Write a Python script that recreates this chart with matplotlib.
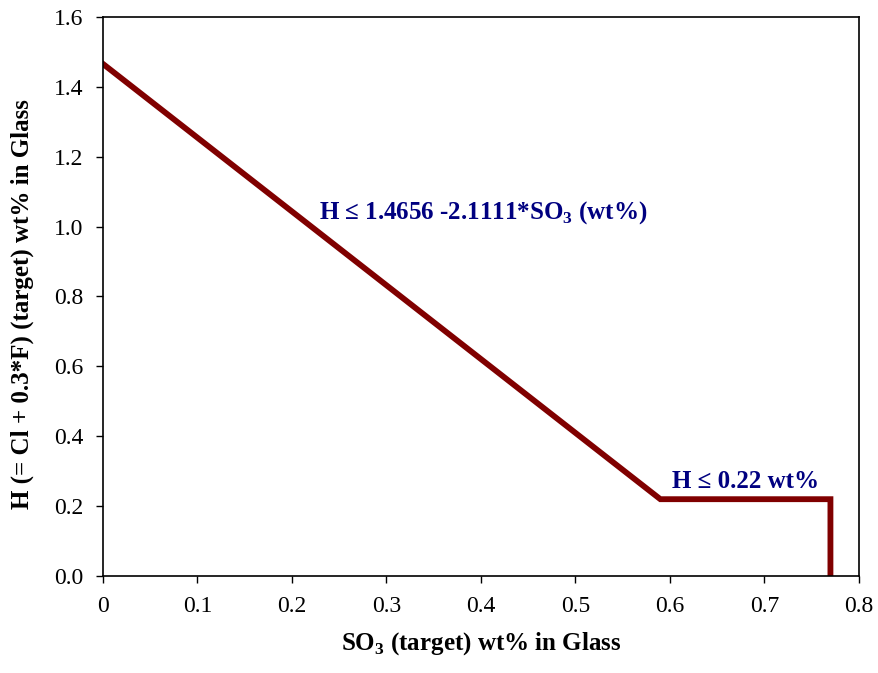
import numpy as np
import matplotlib.pyplot as plt

plt.rcParams['font.family'] = ['Liberation Serif', 'DejaVu Serif']
plt.rcParams['mathtext.fontset'] = 'custom'
plt.rcParams['mathtext.rm'] = 'Liberation Serif'
plt.rcParams['mathtext.bf'] = 'Liberation Serif:bold'

# 制約線 (SO3 vs H)
so3 = [0.0, 0.59, 0.77, 0.77]
h = [1.4656, 0.22, 0.22, 0.0]
xticks = [0, 0.1, 0.2, 0.3, 0.4, 0.5, 0.6, 0.7, 0.8]
xticklabels = ['0', '0.1', '0.2', '0.3', '0.4', '0.5', '0.6', '0.7', '0.8']
yticks = [0.0, 0.2, 0.4, 0.6, 0.8, 1.0, 1.2, 1.4, 1.6]

fig = plt.figure(figsize=(8.79, 6.73), dpi=100)
ax = fig.add_axes([0.117, 0.144, 0.86, 0.831])
ax.plot(so3, h, color='#800000', lw=4.2, solid_joinstyle='miter')
ax.set_xlim(0, 0.8)
ax.set_ylim(0, 1.6)
ax.set_xticks(xticks)
ax.set_xticklabels(xticklabels)
ax.set_yticks(yticks)
ax.set_yticklabels(['%.1f' % v for v in yticks])
ax.tick_params(direction='out', length=5, width=1, labelsize=17, pad=9)
for s in ax.spines.values():
    s.set_linewidth(1.2)

ax.set_xlabel(r'SO$_\mathbf{3}$ (target) wt% in Glass', fontsize=18, fontweight='bold', labelpad=10)
ax.set_ylabel('H (= Cl + 0.3*F) (target) wt% in Glass', fontsize=18, fontweight='bold')
ax.yaxis.set_label_coords(-0.091, 0.486)

ax.text(0.403, 1.04, r'H ≤ 1.4656 -2.1111*SO$_\mathbf{3}$ (wt%)', color='#000080',
        fontsize=18, fontweight='bold', ha='center', va='center')
ax.text(0.68, 0.27, 'H ≤ 0.22 wt%', color='#000080',
        fontsize=18, fontweight='bold', ha='center', va='center')

plt.savefig('out.png', dpi=100)
